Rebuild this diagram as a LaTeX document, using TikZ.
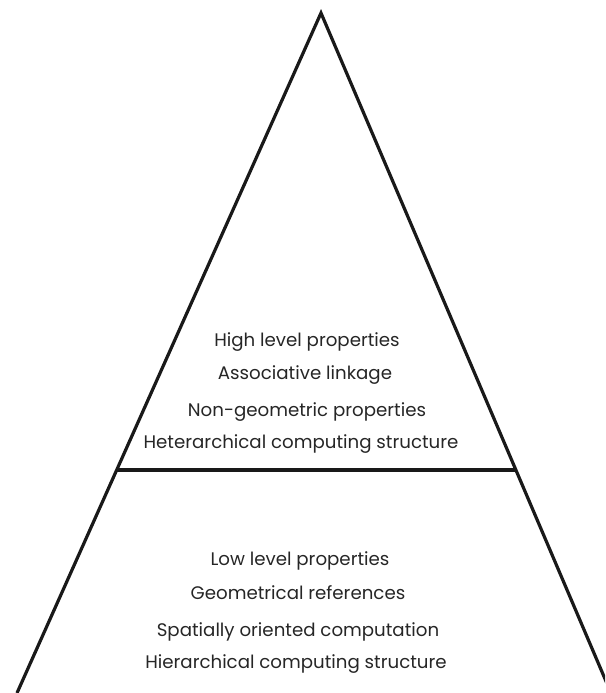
\documentclass[tikz,border=0pt]{standalone}
\usepackage{fontspec}
\setmainfont{Poppins}
\begin{document}
\begin{tikzpicture}[x=1pt,y=-1pt,
  edge/.style={line width=3.2pt, color=black!90, line cap=butt},
  lbl/.style={anchor=base, inner sep=0pt, font=\fontsize{18.2}{21}\selectfont, text=black!85}]
\useasboundingbox (0,0) rectangle (605,693);
\clip (0,0) rectangle (605,693);
\coordinate (apex) at (321,13);
\coordinate (bl) at (17,693);
\coordinate (br) at (611,693);
\coordinate (ml) at (117,470);
\coordinate (mr) at (516,470);
\draw[edge, line join=miter] (bl) -- (apex) -- (br);
\draw[edge] (ml) -- (mr);
\node[lbl] (h1) at (307,346) {High level properties};
\node[lbl] (h2) at (305,379) {Associative linkage};
\node[lbl] (h3) at (307,416) {Non-geometric properties};
\node[lbl] (h4) at (301,448) {Heterarchical computing structure};
\node[lbl] (l1) at (300,565) {Low level properties};
\node[lbl] (l2) at (298,599) {Geometrical references};
\node[lbl] (l3) at (298,636) {Spatially oriented computation};
\node[lbl] (l4) at (296,668) {Hierarchical computing structure};
\end{tikzpicture}
\end{document}
